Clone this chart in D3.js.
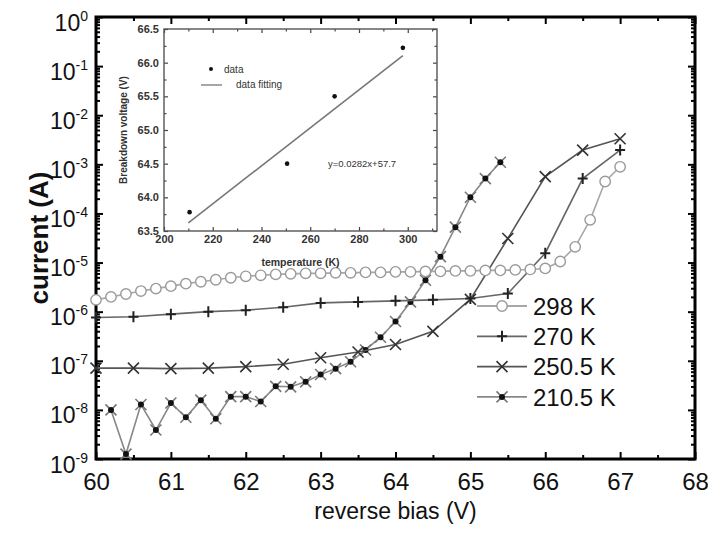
<!DOCTYPE html>
<html>
<head>
<meta charset="utf-8">
<script src="https://cdn.jsdelivr.net/npm/d3@7"></script>
<style>
  html, body { margin: 0; padding: 0; background: #fff; }
  svg { display: block; font-family: "Liberation Sans", Arial, sans-serif; }
</style>
</head>
<body>
<svg id="chart" width="708" height="539"></svg>
<script>
// ---- Reverse-bias I–V sweeps at four temperatures ----
const bias298 = [60.0, 60.2, 60.4, 60.6, 60.8, 61.0, 61.2, 61.4, 61.6, 61.8,
                 62.0, 62.2, 62.4, 62.6, 62.8, 63.0, 63.2, 63.4, 63.6, 63.8,
                 64.0, 64.2, 64.4, 64.6, 64.8, 65.0, 65.2, 65.4, 65.6, 65.8,
                 66.0, 66.2, 66.4, 66.6, 66.8, 67.0];
const current298 = [1.74e-6, 2.00e-6, 2.29e-6, 2.63e-6, 2.95e-6, 3.31e-6, 3.72e-6, 4.07e-6, 4.47e-6, 4.90e-6,
                    5.25e-6, 5.50e-6, 5.75e-6, 5.89e-6, 6.03e-6, 6.03e-6, 6.17e-6, 6.17e-6, 6.31e-6, 6.31e-6,
                    6.46e-6, 6.46e-6, 6.61e-6, 6.61e-6, 6.76e-6, 6.76e-6, 6.92e-6, 6.92e-6, 7.08e-6, 7.24e-6,
                    7.59e-6, 1.05e-5, 2.09e-5, 7.41e-5, 4.47e-4, 8.91e-4];

const bias270 = [60.0, 60.5, 61.0, 61.5, 62.0, 62.5, 63.0, 63.5, 64.0, 64.5, 65.0, 65.5, 66.0, 66.5, 67.0];
const current270 = [7.6e-7, 7.9e-7, 8.9e-7, 1.0e-6, 1.07e-6, 1.23e-6, 1.51e-6, 1.58e-6, 1.66e-6, 1.74e-6,
                    1.86e-6, 2.34e-6, 1.55e-5, 5.13e-4, 1.95e-3];

const bias250 = [60.0, 60.5, 61.0, 61.5, 62.0, 62.5, 63.0, 63.5, 64.0, 64.5, 65.0, 65.5, 66.0, 66.5, 67.0];
const current250 = [7.08e-8, 7.08e-8, 6.92e-8, 7.08e-8, 7.59e-8, 8.51e-8, 1.15e-7, 1.51e-7, 2.14e-7, 3.98e-7,
                    1.78e-6, 3.09e-5, 5.62e-4, 1.95e-3, 3.31e-3];

const bias210 = [60.2, 60.4, 60.6, 60.8, 61.0, 61.2, 61.4, 61.6, 61.8, 62.0,
                 62.2, 62.4, 62.6, 62.8, 63.0, 63.2, 63.4, 63.6, 63.8, 64.0,
                 64.2, 64.4, 64.6, 64.8, 65.0, 65.2, 65.4];
const current210 = [1.0e-8, 1.26e-9, 1.29e-8, 3.89e-9, 1.38e-8, 7.08e-9, 1.58e-8, 6.61e-9, 1.86e-8, 1.86e-8,
                    1.48e-8, 3.02e-8, 2.95e-8, 3.72e-8, 5.25e-8, 6.92e-8, 9.55e-8, 1.66e-7, 3.02e-7, 6.31e-7,
                    1.58e-6, 4.37e-6, 1.32e-5, 5.25e-5, 2.14e-4, 5.13e-4, 1.10e-3];

const seriesNames = ["298 K", "270 K", "250.5 K", "210.5 K"];

// ---- Breakdown voltage vs temperature (inset) ----
const insetTemps = [210.5, 250.5, 270, 298];
const insetVbd = [63.78, 64.50, 65.50, 66.22];
const fitSlope = 0.0282;
const fitIntercept = 57.7;
const fitSpan = [210, 298];

// ---- Tick values ----
const biasTicks = [60, 61, 62, 63, 64, 65, 66, 67, 68];
const currentTicks = [1e0, 1e-1, 1e-2, 1e-3, 1e-4, 1e-5, 1e-6, 1e-7, 1e-8, 1e-9];
const currentExponents = ["0", "-1", "-2", "-3", "-4", "-5", "-6", "-7", "-8", "-9"];
const tempTicks = [200, 220, 240, 260, 280, 300];
const vbdTicks = [63.5, 64.0, 64.5, 65.0, 65.5, 66.0, 66.5];

// ---------------------------------------------------------------
const svg = d3.select("#chart");
const box = { left: 96, right: 695, top: 17, bottom: 459 };

const x = d3.scaleLinear().domain([60, 68]).range([box.left, box.right]);
const y = d3.scaleLog().domain([1e-9, 1]).range([box.bottom, box.top]);

// minor tick positions: half volts, and 2..9 within each decade
const minorBias = biasTicks.slice(0, -1).map(v => v + 0.5);
const minorCurrent = [];
currentTicks.slice(1).forEach(d => { for (let m = 2; m <= 9; m++) minorCurrent.push(d * m); });

function styleAxis(g) {
  g.select(".domain").remove();
  g.selectAll(".tick line").attr("stroke", "#000").attr("stroke-width", 2);
}

// bottom axis with labels
svg.append("g")
  .attr("transform", `translate(0,${box.bottom})`)
  .call(d3.axisBottom(x).tickValues(biasTicks).tickSize(-7).tickPadding(14).tickFormat(d3.format("d")))
  .call(styleAxis)
  .call(g => g.selectAll("text").attr("font-size", 24).attr("fill", "#111")
    .attr("font-family", "'Liberation Sans', Arial, sans-serif"));
svg.append("g")
  .attr("transform", `translate(0,${box.bottom})`)
  .call(d3.axisBottom(x).tickValues(minorBias).tickSize(-4).tickFormat(""))
  .call(styleAxis);

// top axis, ticks only
svg.append("g")
  .attr("transform", `translate(0,${box.top})`)
  .call(d3.axisTop(x).tickValues(biasTicks).tickSize(-7).tickFormat(""))
  .call(styleAxis);
svg.append("g")
  .attr("transform", `translate(0,${box.top})`)
  .call(d3.axisTop(x).tickValues(minorBias).tickSize(-4).tickFormat(""))
  .call(styleAxis);

// left axis: ticks, then power-of-ten labels
const gLeft = svg.append("g")
  .attr("transform", `translate(${box.left},0)`)
  .call(d3.axisLeft(y).tickValues(currentTicks).tickSize(-7).tickFormat(""))
  .call(styleAxis);
svg.append("g")
  .attr("transform", `translate(${box.left},0)`)
  .call(d3.axisLeft(y).tickValues(minorCurrent).tickSize(-4).tickFormat(""))
  .call(styleAxis);

gLeft.selectAll(".tick").each(function (d, i) {
  const t = d3.select(this).append("text")
    .attr("x", -8).attr("y", 13)
    .attr("text-anchor", "end")
    .attr("fill", "#111")
    .attr("font-family", "'Liberation Sans', Arial, sans-serif");
  t.append("tspan").attr("font-size", 23).text("10");
  t.append("tspan").attr("font-size", 14).attr("dy", -10).text(currentExponents[i]);
});

// right axis, ticks only
svg.append("g")
  .attr("transform", `translate(${box.right},0)`)
  .call(d3.axisRight(y).tickValues(currentTicks).tickSize(-7).tickFormat(""))
  .call(styleAxis);
svg.append("g")
  .attr("transform", `translate(${box.right},0)`)
  .call(d3.axisRight(y).tickValues(minorCurrent).tickSize(-4).tickFormat(""))
  .call(styleAxis);

// plot frame
svg.append("rect")
  .attr("x", box.left).attr("y", box.top)
  .attr("width", box.right - box.left).attr("height", box.bottom - box.top)
  .attr("fill", "none").attr("stroke", "#000").attr("stroke-width", 3);

// axis titles
svg.append("text")
  .attr("x", (box.left + box.right) / 2).attr("y", 519)
  .attr("text-anchor", "middle").attr("font-size", 23).attr("fill", "#111")
  .text("reverse bias (V)");
svg.append("text")
  .attr("transform", `translate(48,${(box.top + box.bottom) / 2}) rotate(-90)`)
  .attr("text-anchor", "middle").attr("font-size", 26).attr("font-weight", "bold").attr("fill", "#111")
  .text("current (A)");

// ---- marker shapes ----
const markerPaths = {
  circle: d3.symbol(d3.symbolCircle, 85)(),
  plus: "M-5,0H5M0,-5.5V5.5",
  cross: "M-5.5,-5.5L5.5,5.5M-5.5,5.5L5.5,-5.5",
  star: "M-5.5,-5.5L5.5,5.5M-5.5,5.5L5.5,-5.5"
};

const series = [
  { name: seriesNames[0], bias: bias298, current: current298, line: "#a8a8a8", mark: "circle", mcolor: "#9a9a9a" },
  { name: seriesNames[1], bias: bias270, current: current270, line: "#666", mark: "plus", mcolor: "#222" },
  { name: seriesNames[2], bias: bias250, current: current250, line: "#555", mark: "cross", mcolor: "#333" },
  { name: seriesNames[3], bias: bias210, current: current210, line: "#888", mark: "star", mcolor: "#777" }
];

function drawMarker(g, s) {
  if (s.mark === "circle") {
    g.append("path").attr("d", markerPaths.circle)
      .attr("fill", "#fff").attr("stroke", s.mcolor).attr("stroke-width", 1.4);
  } else {
    g.append("path").attr("d", markerPaths[s.mark])
      .attr("fill", "none").attr("stroke", s.mcolor).attr("stroke-width", s.mark === "plus" ? 2 : 1.6);
    if (s.mark === "star") {
      g.append("circle").attr("r", 3).attr("fill", "#111");
    }
  }
}

const line = d3.line().x(d => x(d[0])).y(d => y(d[1]));

// draw from the lowest series up so the lighter sweeps stay on top
series.slice().reverse().forEach(s => {
  const pts = s.bias.map((v, i) => [v, s.current[i]]);
  const g = svg.append("g");
  g.append("path").datum(pts).attr("d", line)
    .attr("fill", "none").attr("stroke", s.line).attr("stroke-width", 1.6);
  g.selectAll("g.m").data(pts).enter().append("g")
    .attr("class", "m")
    .attr("transform", d => `translate(${x(d[0])},${y(d[1])})`)
    .each(function () { drawMarker(d3.select(this), s); });
});

// legend
const legend = svg.append("g");
series.forEach((s, i) => {
  const ly = 306 + i * 30.3;
  legend.append("line").attr("x1", 477).attr("x2", 527).attr("y1", ly).attr("y2", ly)
    .attr("stroke", s.line).attr("stroke-width", 1.8);
  const mg = legend.append("g").attr("transform", `translate(502,${ly})`);
  drawMarker(mg, s);
  legend.append("text").attr("x", 533).attr("y", ly).attr("dy", "0.36em")
    .attr("font-size", 24).attr("fill", "#111").text(s.name);
});

// ---- inset: breakdown voltage vs temperature ----
const inBox = { left: 164, right: 437, top: 29, bottom: 231 };
const ix = d3.scaleLinear().domain([200, 312]).range([inBox.left, inBox.right]);
const iy = d3.scaleLinear().domain([63.5, 66.5]).range([inBox.bottom, inBox.top]);
const inset = svg.append("g").attr("font-family", "'Liberation Sans', Arial, sans-serif");

inset.append("rect")
  .attr("x", inBox.left).attr("y", inBox.top)
  .attr("width", inBox.right - inBox.left).attr("height", inBox.bottom - inBox.top)
  .attr("fill", "#fff");

const minorTemp = [210, 230, 250, 270, 290, 310];
const minorVbd = [63.75, 64.25, 64.75, 65.25, 65.75, 66.25];

function styleInset(g) {
  g.select(".domain").remove();
  g.selectAll(".tick line").attr("stroke", "#444").attr("stroke-width", 1.2);
  g.selectAll("text").attr("font-size", 11).attr("font-weight", "bold").attr("fill", "#333");
}

inset.append("g").attr("transform", `translate(0,${inBox.bottom})`)
  .call(d3.axisBottom(ix).tickValues(tempTicks).tickSize(-4).tickPadding(4).tickFormat(d3.format("d")))
  .call(styleInset);
inset.append("g").attr("transform", `translate(0,${inBox.bottom})`)
  .call(d3.axisBottom(ix).tickValues(minorTemp).tickSize(-2.5).tickFormat(""))
  .call(styleInset);
inset.append("g").attr("transform", `translate(0,${inBox.top})`)
  .call(d3.axisTop(ix).tickValues(tempTicks).tickSize(-4).tickFormat(""))
  .call(styleInset);
inset.append("g").attr("transform", `translate(0,${inBox.top})`)
  .call(d3.axisTop(ix).tickValues(minorTemp).tickSize(-2.5).tickFormat(""))
  .call(styleInset);
inset.append("g").attr("transform", `translate(${inBox.left},0)`)
  .call(d3.axisLeft(iy).tickValues(vbdTicks).tickSize(-4).tickPadding(5).tickFormat(d3.format(".1f")))
  .call(styleInset);
inset.append("g").attr("transform", `translate(${inBox.left},0)`)
  .call(d3.axisLeft(iy).tickValues(minorVbd).tickSize(-2.5).tickFormat(""))
  .call(styleInset);
inset.append("g").attr("transform", `translate(${inBox.right},0)`)
  .call(d3.axisRight(iy).tickValues(vbdTicks).tickSize(-4).tickFormat(""))
  .call(styleInset);
inset.append("g").attr("transform", `translate(${inBox.right},0)`)
  .call(d3.axisRight(iy).tickValues(minorVbd).tickSize(-2.5).tickFormat(""))
  .call(styleInset);

inset.append("rect")
  .attr("x", inBox.left).attr("y", inBox.top)
  .attr("width", inBox.right - inBox.left).attr("height", inBox.bottom - inBox.top)
  .attr("fill", "none").attr("stroke", "#555").attr("stroke-width", 1.4);

// linear fit and measured points
const fitPts = fitSpan.map(t => [t, fitSlope * t + fitIntercept]);
inset.append("path").datum(fitPts)
  .attr("d", d3.line().x(d => ix(d[0])).y(d => iy(d[1])))
  .attr("stroke", "#777").attr("stroke-width", 1.6).attr("fill", "none");
inset.selectAll("circle.pt").data(insetTemps).enter().append("circle")
  .attr("class", "pt")
  .attr("cx", d => ix(d)).attr("cy", (d, i) => iy(insetVbd[i]))
  .attr("r", 2.3).attr("fill", "#111");

// inset legend and fit equation
inset.append("circle").attr("cx", 211).attr("cy", 69).attr("r", 2).attr("fill", "#111");
inset.append("text").attr("x", 224).attr("y", 69).attr("dy", "0.35em")
  .attr("font-size", 10).attr("fill", "#333").text("data");
inset.append("line").attr("x1", 201).attr("x2", 222).attr("y1", 85).attr("y2", 85)
  .attr("stroke", "#888").attr("stroke-width", 1.5);
inset.append("text").attr("x", 236).attr("y", 84).attr("dy", "0.35em")
  .attr("font-size", 10).attr("fill", "#333").text("data fitting");
inset.append("text").attr("x", 328).attr("y", 164).attr("dy", "0.35em")
  .attr("font-size", 9.5).attr("fill", "#333").text(`y=${fitSlope}x+${fitIntercept}`);

// inset axis titles
inset.append("text")
  .attr("x", (inBox.left + inBox.right) / 2).attr("y", 262).attr("dy", "0.35em")
  .attr("text-anchor", "middle").attr("font-size", 10.5).attr("font-weight", "bold").attr("fill", "#333")
  .text("temperature (K)");
inset.append("text")
  .attr("transform", `translate(123,${(inBox.top + inBox.bottom) / 2}) rotate(-90)`)
  .attr("text-anchor", "middle").attr("dy", "0.35em")
  .attr("font-size", 10).attr("font-weight", "bold").attr("fill", "#333")
  .text("Breakdown voltage (V)");
</script>
</body>
</html>
